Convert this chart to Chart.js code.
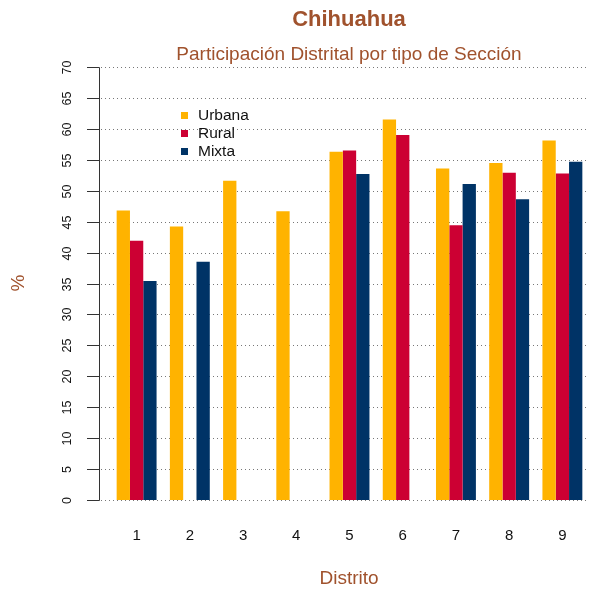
<!DOCTYPE html>
<html>
<head>
<meta charset="utf-8">
<title>Chihuahua</title>
<script src="https://cdn.jsdelivr.net/npm/chart.js@4/dist/chart.umd.min.js"></script>
<style>
    html, body { margin: 0; padding: 0; background: #ffffff; overflow: hidden; }
    #wrap { width: 589px; height: 593px; position: relative; }
</style>
</head>
<body>
<div id="wrap"><canvas id="participacionChart"></canvas></div>
<script>
// Participación por distrito y tipo de sección (%)
const distritos = ['1', '2', '3', '4', '5', '6', '7', '8', '9'];
const urbana = [46.8, 44.2, 51.6, 46.7, 56.3, 61.5, 53.6, 54.5, 58.1];
const rural = [41.9, null, null, null, 56.5, 59.0, 44.4, 52.9, 52.8];
const mixta = [35.4, 38.5, null, null, 52.7, null, 51.1, 48.6, 54.7];
const yTicks = [0, 5, 10, 15, 20, 25, 30, 35, 40, 45, 50, 55, 60, 65, 70];

const FONT = "'Liberation Sans', Arial, Helvetica, sans-serif";
const BROWN = '#A0522D';

// Axis, grid, titles and legend, drawn on the canvas from the chart scales
const decorations = {
    id: 'decorations',
    beforeDatasetsDraw(chart) {
        const { ctx, scales: { y } } = chart;
        ctx.save();
        ctx.strokeStyle = '#777777';
        ctx.lineWidth = 1;
        ctx.setLineDash([1, 3]);
        yTicks.forEach(v => {
            const py = Math.round(y.getPixelForValue(v)) + 0.5;
            ctx.beginPath();
            ctx.moveTo(101, py);
            ctx.lineTo(chart.width, py);
            ctx.stroke();
        });
        ctx.restore();
    },
    afterDraw(chart) {
        const { ctx, scales: { x, y } } = chart;
        ctx.save();

        // y axis
        const axisX = 99.5;
        ctx.strokeStyle = '#333333';
        ctx.lineWidth = 1;
        ctx.beginPath();
        ctx.moveTo(axisX, Math.round(y.getPixelForValue(yTicks[0])) + 0.5);
        ctx.lineTo(axisX, Math.round(y.getPixelForValue(yTicks[yTicks.length - 1])) + 0.5);
        ctx.stroke();

        ctx.fillStyle = '#111111';
        ctx.font = '12.5px ' + FONT;
        ctx.textAlign = 'center';
        ctx.textBaseline = 'middle';
        yTicks.forEach(v => {
            const py = Math.round(y.getPixelForValue(v)) + 0.5;
            ctx.beginPath();
            ctx.moveTo(87, py);
            ctx.lineTo(axisX, py);
            ctx.stroke();
            ctx.save();
            ctx.translate(68, py);
            ctx.rotate(-Math.PI / 2);
            ctx.fillText(String(v), 0, 0);
            ctx.restore();
        });

        // district labels
        ctx.fillStyle = '#111111';
        ctx.font = '15px ' + FONT;
        distritos.forEach((d, i) => {
            ctx.fillText(d, x.getPixelForValue(i), 536);
        });

        // titles
        const cx = 349;
        ctx.fillStyle = BROWN;
        ctx.font = 'bold 22px ' + FONT;
        ctx.fillText('Chihuahua', cx, 20);
        ctx.font = '19px ' + FONT;
        ctx.fillText('Participación Distrital por tipo de Sección', cx, 55);
        ctx.fillText('Distrito', cx, 579);
        ctx.save();
        ctx.translate(19, 283);
        ctx.rotate(-Math.PI / 2);
        ctx.fillText('%', 0, 0);
        ctx.restore();

        // legend
        ctx.font = '15.5px ' + FONT;
        ctx.textAlign = 'left';
        chart.data.datasets.forEach((ds, i) => {
            const ly = 115.5 + i * 18;
            ctx.fillStyle = ds.backgroundColor;
            ctx.fillRect(181, ly - 3.5, 7, 7);
            ctx.fillStyle = '#111111';
            ctx.fillText(ds.label, 198, ly);
        });

        ctx.restore();
    }
};

new Chart(document.getElementById('participacionChart'), {
    type: 'bar',
    data: {
        labels: distritos,
        datasets: [
            { label: 'Urbana', data: urbana, backgroundColor: '#FFB300' },
            { label: 'Rural', data: rural, backgroundColor: '#CC0033' },
            { label: 'Mixta', data: mixta, backgroundColor: '#003366' }
        ]
    },
    options: {
        responsive: true,
        maintainAspectRatio: false,
        animation: false,
        events: [],
        layout: { padding: { top: 67, bottom: 93, left: 110, right: 0 } },
        datasets: {
            bar: { categoryPercentage: 0.75, barPercentage: 1.0 }
        },
        plugins: {
            legend: { display: false },
            tooltip: { enabled: false }
        },
        scales: {
            x: { display: false },
            y: { display: false, min: 0, max: 70 }
        }
    },
    plugins: [decorations]
});
</script>
</body>
</html>
